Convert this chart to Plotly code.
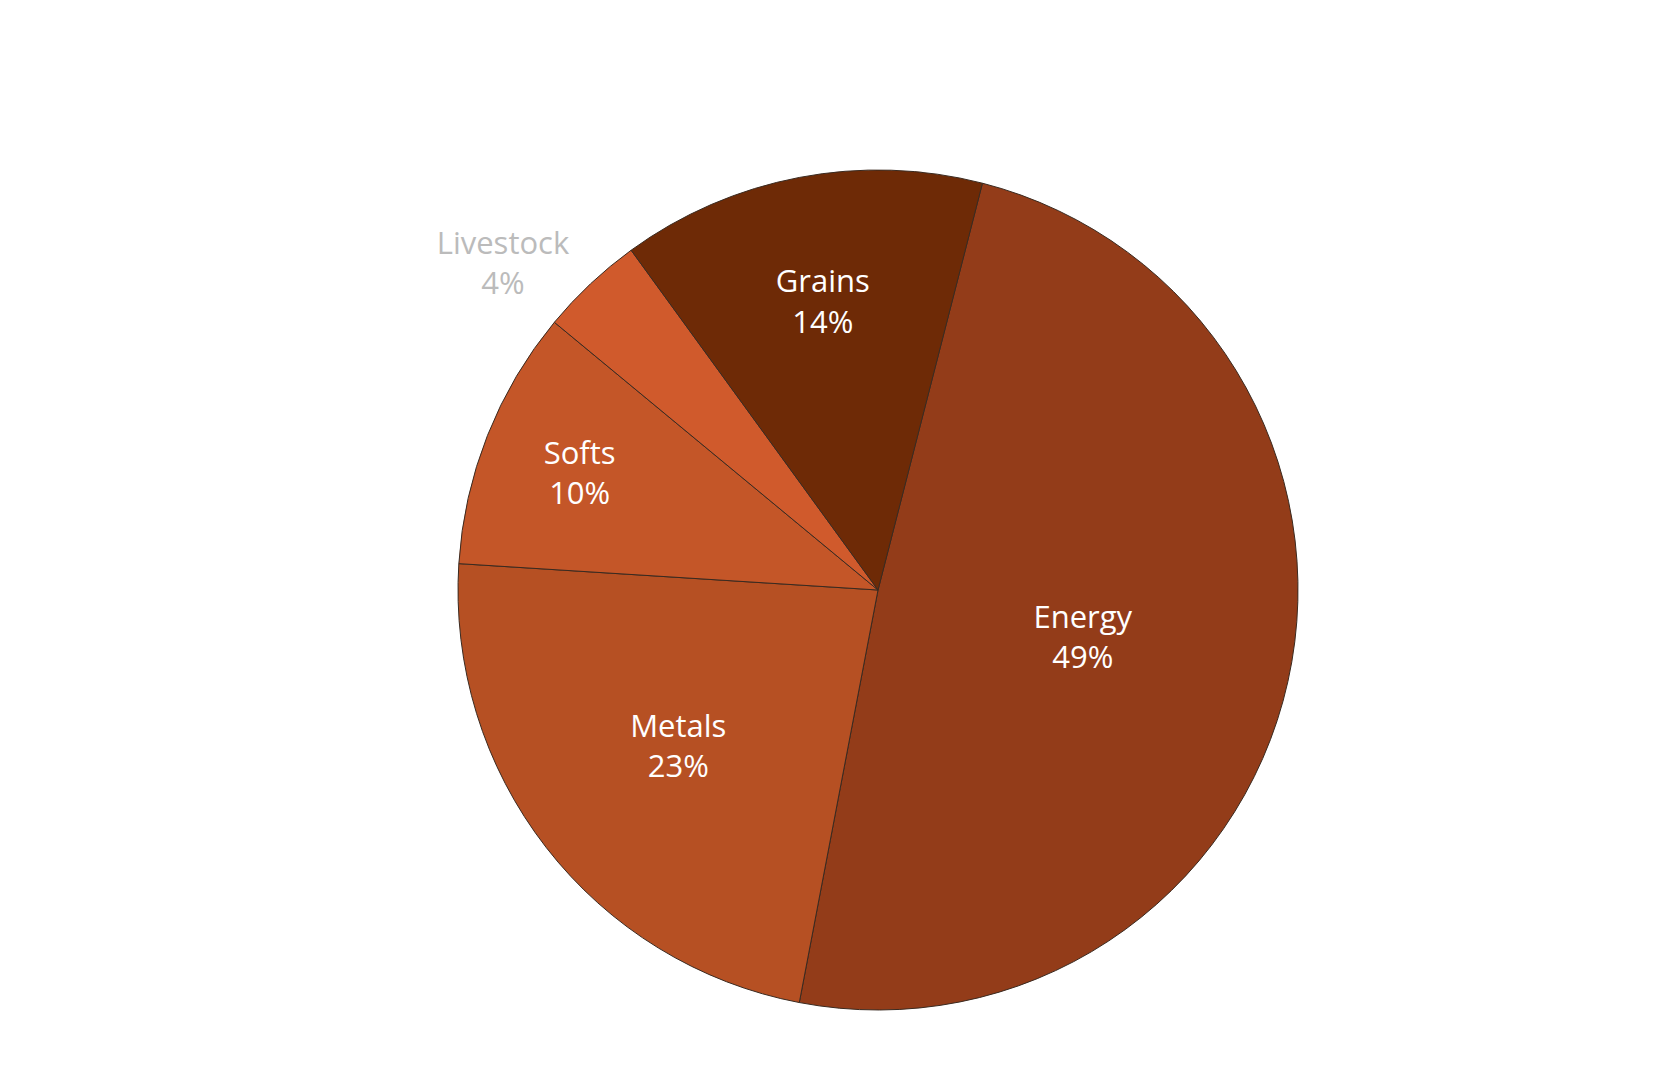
import plotly.graph_objects as go

sectors = ["Energy", "Metals", "Softs", "Livestock", "Grains"]
shares = [49, 23, 10, 4, 14]
colors = ["#933C19", "#B65023", "#C45628", "#D05A2C", "#6E2A06"]

fig = go.Figure(go.Pie(
    labels=sectors,
    values=shares,
    sort=False,
    direction="clockwise",
    rotation=14.4,
    marker=dict(colors=colors, line=dict(color="#3a2a20", width=1)),
    texttemplate="%{label}<br>%{percent:.0%}",
    textposition=["inside", "inside", "inside", "outside", "inside"],
    insidetextorientation="horizontal",
    textfont=dict(family="Open Sans", size=31,
                  color=["white", "white", "white", "#BBBBBB", "white"]),
    showlegend=False,
    hoverinfo="label+percent",
))
fig.update_layout(
    width=1656, height=1080,
    paper_bgcolor="white",
    margin=dict(l=450, r=366, t=162, b=78),
)
fig.write_html("out.html")
